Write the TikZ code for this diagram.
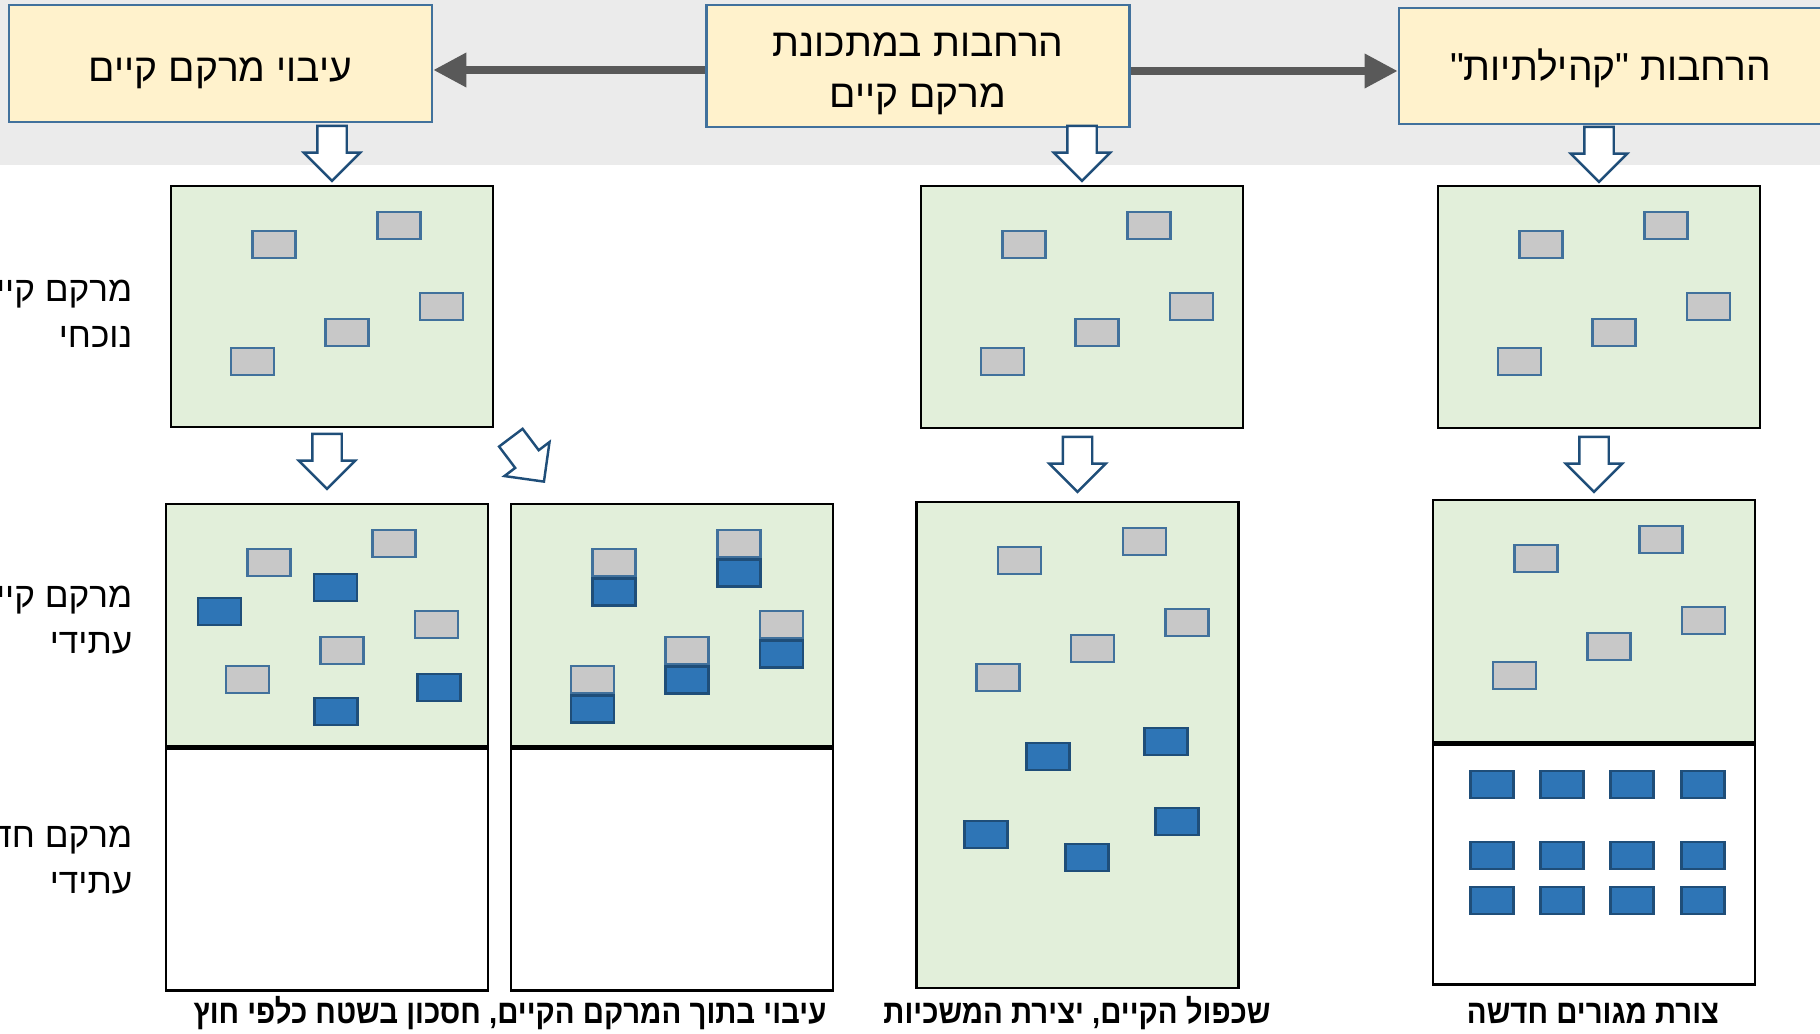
\documentclass[tikz,border=0pt]{standalone}
\usepackage{fontspec}
\newfontfamily\hebfont[Script=Hebrew]{Liberation Sans}
\newfontfamily\hebnarrow[Script=Hebrew,FakeStretch=0.88]{Liberation Sans}
\TeXXeTstate=1
\usetikzlibrary{arrows.meta,positioning,shapes.arrows}

\definecolor{bandgray}{HTML}{EBEBEB}
\definecolor{boxyellow}{HTML}{FFF2CC}
\definecolor{boxline}{HTML}{41719C}
\definecolor{panelgreen}{HTML}{E2EFDA}
\definecolor{housegray}{HTML}{C8C8C8}
\definecolor{houseblue}{HTML}{2E75B6}
\definecolor{housedark}{HTML}{1F4E79}
\definecolor{linkgray}{HTML}{595959}

\newcommand{\oldhouses}[1]{%
  \foreach \dx/\dy [count=\i] in {1.045/0.60, 2.295/0.41, 2.72/1.22, 1.775/1.48, 0.83/1.77}
    \node[oldhouse] (#1-g\i) at ([shift={(\dx,-\dy)}]#1.north west) {};}

\begin{document}
\begin{tikzpicture}[every node/.style={font=\hebfont}, >={Triangle[length=3.3mm, width=3.3mm]},
  title/.style={draw=boxline, fill=boxyellow, line width=0.8pt, minimum width=4.23cm, minimum height=1.16cm, align=center, text depth=0pt, text height=0.8em, font=\hebfont\fontsize{11.1}{14.5}\selectfont},
  panel/.style={draw, line width=0.8pt, fill=panelgreen, minimum width=3.22cm, minimum height=2.42cm, inner sep=0pt},
  emptypanel/.style={panel, fill=white},
  oldhouse/.style={draw=boxline, fill=housegray, line width=0.7pt, minimum width=0.43cm, minimum height=0.27cm, inner sep=0pt},
  newhouse/.style={oldhouse, draw=housedark, fill=houseblue},
  downarrow/.style={single arrow, draw=housedark, fill=white, line width=0.7pt, rotate=-90, minimum height=0.55cm, inner sep=0.135cm, single arrow head extend=0.135cm, single arrow tip angle=90, single arrow head indent=0pt},
  link/.style={->, linkgray, line width=2pt},
  rowlabel/.style={anchor=east, align=right, inner sep=0pt, font=\hebfont\fontsize{10}{13}\selectfont},
  caption/.style={font=\hebnarrow\bfseries\fontsize{9.5}{11}\selectfont}]
	\useasboundingbox (0,0) rectangle (18.2,-10.34);
	\fill[bandgray] (0,0) rectangle (18.2,-1.65);
	\node[title, minimum height=1.17cm, text height=1.05em] (thicken) at (2.205,-0.635) {\beginR עיבוי מרקם קיים\endR};
	\node[title, minimum height=1.22cm, text height=23.5pt] (extend) at (9.18,-0.66) {\beginR הרחבות במתכונת\endR\\\beginR מרקם קיים\endR};
	\node[title] (community) at (16.105,-0.66) {\beginR הרחבות "קהילתיות"\endR};
	\draw[link] ([yshift=-0.04cm]extend.west) -- ([yshift=-0.065cm]thicken.east);
	\draw[link] ([yshift=-0.05cm]extend.east) -- ([yshift=-0.05cm]community.west);
	\node[panel, minimum height=2.41cm] (curA) at (3.32,-3.065) {};
	\node[panel] (curC) at (10.82,-3.07) {};
	\node[panel] (curD) at (15.99,-3.07) {};
	\node[panel] (futA) at (3.27,-6.25) {};
	\node[emptypanel, below=0pt of futA] (newA) {};
	\node[panel] (futB) at (6.72,-6.25) {};
	\node[emptypanel, below=0pt of futB] (newB) {};
	\node[panel, minimum height=4.86cm] (futC) at (10.775,-7.45) {};
	\node[panel] (futD) at (15.94,-6.21) {};
	\node[emptypanel, minimum height=2.40cm, below=0pt of futD] (newD) {};
	\oldhouses{curA}
	\oldhouses{curC}
	\oldhouses{curD}
	\oldhouses{futA}
	\oldhouses{futB}
	\oldhouses{futC}
	\oldhouses{futD}
	\foreach \dx/\dy [count=\i] in {0.55/1.09, 1.71/0.85, 2.745/1.85, 1.715/2.09}
		\node[newhouse] (futA-b\i) at ([shift={(\dx,-\dy)}]futA.north west) {};
	\foreach \i in {1,...,5}
		\node[newhouse, anchor=north] (futB-b\i) at (futB-g\i.south) {};
	\foreach \dx/\dy [count=\i] in {1.33/2.56, 2.51/2.41, 2.62/3.21, 0.71/3.34, 1.72/3.57}
		\node[newhouse] (futC-b\i) at ([shift={(\dx,-\dy)}]futC.north west) {};
	\foreach \dx in {0.605,1.305,2.005,2.715}
		\foreach \dy in {0.41,1.12,1.57}
			\node[newhouse] (newD-b\dx-\dy) at ([shift={(\dx,-\dy)}]newD.north west) {};
	\node[downarrow, anchor=tip] (toCurA) at ([yshift=0.02cm]curA.north) {};
	\node[downarrow, anchor=tip] (toCurC) at ([yshift=0.02cm]curC.north) {};
	\node[downarrow, anchor=tip] (toCurD) at ([yshift=0.01cm]curD.north) {};
	\node[downarrow, anchor=tip] (toFutA) at ([yshift=0.12cm]futA.north) {};
	\node[downarrow, rotate=37, anchor=tip] (toFutB) at (5.45,-4.83) {};
	\node[downarrow, anchor=tip] (toFutC) at ([yshift=0.07cm]futC.north) {};
	\node[downarrow, anchor=tip] (toFutD) at ([yshift=0.05cm]futD.north) {};
	\node[rowlabel] (lblNow) at (1.33,-3.14) {\beginR מרקם קיים\endR\\\beginR נוכחי\endR};
	\node[rowlabel] (lblOld) at (1.33,-6.20) {\beginR מרקם קיים\endR\\\beginR עתידי\endR};
	\node[rowlabel] (lblNew) at (1.33,-8.60) {\beginR מרקם חדש\endR\\\beginR עתידי\endR};
	\node[caption] (capAB) at (5.10,-10.13) {\beginR עיבוי בתוך המרקם הקיים, חסכון בשטח כלפי חוץ\endR};
	\node[caption] (capC) at (10.77,-10.13) {\beginR שכפול הקיים, יצירת המשכיות\endR};
	\node[caption] (capD) at (15.93,-10.13) {\beginR צורת מגורים חדשה\endR};
\end{tikzpicture}
\end{document}
